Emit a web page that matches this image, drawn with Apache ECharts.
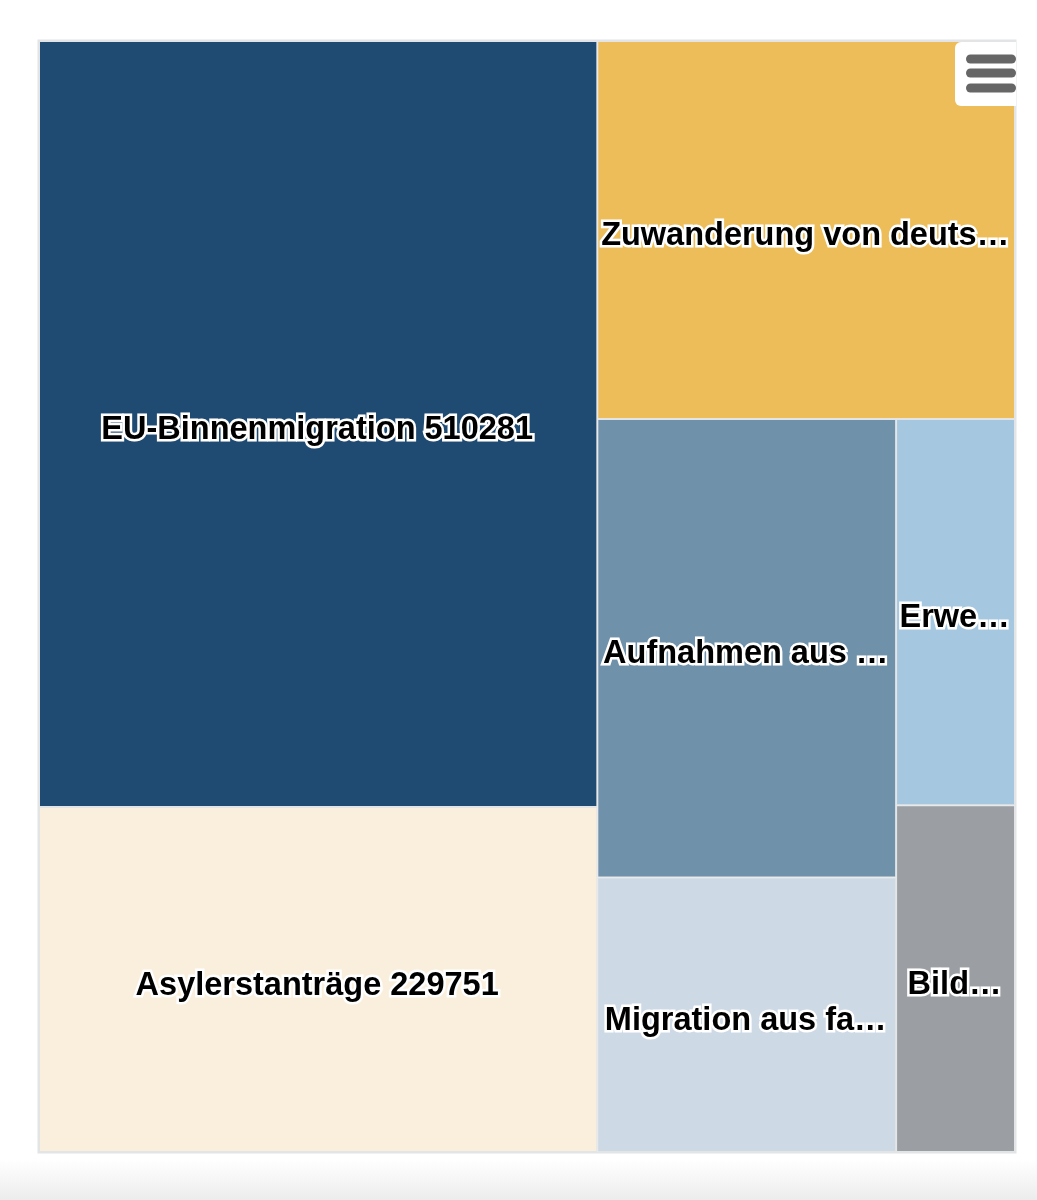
<!DOCTYPE html>
<html><head><meta charset="utf-8">
<script src="https://cdn.jsdelivr.net/npm/echarts@6/dist/echarts.min.js"></script>
<style>html,body{margin:0;padding:0;background:#fff}#c{width:1037px;height:1200px}</style>
</head><body><div id="c"></div>
<script>
// ---- data ----
const categories = [
  'EU-Binnenmigration',
  'Asylerstanträge',
  'Zuwanderung von deutschen Staatsangehörigen',
  'Aufnahmen aus humanitären Gründen',
  'Migration aus familiären Gründen',
  'Erwerbsmigration',
  'Bildungsmigration'
];
const values = [510281, 229751, 188300, 163500, 97800, 54800, 49200];
const colors = ['#1f4a72', '#f9efdc', '#ecbd59', '#7091aa', '#cdd9e5', '#a5c7e0', '#9b9fa3'];
// groups following the reference's squarified layout
const leftGroup = [0, 1];
const topRightGroup = [2];
const midGroup = [3, 4];
const rightGroup = [5, 6];

// ---- layout of groups derived from the values ----
const X0 = 39, Y0 = 41, W = 976, H = 1111;
const sum = idx => idx.reduce((s, i) => s + values[i], 0);
const total = sum([0,1,2,3,4,5,6]);
const leftW = W * sum(leftGroup) / total;
const rightW = W - leftW;
const zuwH = H * sum(topRightGroup) / (total - sum(leftGroup));
const lowerH = H - zuwH;
const midW = rightW * sum(midGroup) / (sum(midGroup) + sum(rightGroup));

function makeSeries(idx, left, top, width, height) {
  return {
    type: 'treemap',
    left: left, top: top, width: width, height: height,
    roam: false, nodeClick: false,
    breadcrumb: { show: false },
    animation: false,
    levels: [
      { itemStyle: { borderWidth: 0, gapWidth: 0 } },
      { itemStyle: { borderWidth: 1, borderColor: '#e2e4e6', gapWidth: 0 } }
    ],
    label: {
      show: true,
      position: 'inside',
      align: 'center',
      verticalAlign: 'middle',
      offset: [-1, 6],
      formatter: p => p.name + ' ' + p.value,
      fontFamily: 'Liberation Sans, Arial, sans-serif',
      fontWeight: 'bold',
      fontSize: 32.5,
      color: '#000000',
      textBorderColor: '#ffffff',
      textBorderWidth: 5,
      overflow: 'truncate',
      ellipsis: '…',
      padding: 0
    },
    data: idx.map(i => ({ name: categories[i], value: values[i], itemStyle: { color: colors[i] } }))
  };
}

const chart = echarts.init(document.getElementById('c'));
chart.setOption({
  backgroundColor: '#ffffff',
  tooltip: { show: false },
  graphic: [
    { type: 'rect', z: -10, shape: { x: 37.5, y: 39.5, width: 979, height: 1114 }, style: { fill: '#e2e4e6' } },
    { type: 'rect', z: -10, shape: { x: 0, y: 1160, width: 1037, height: 40 },
      style: { fill: new echarts.graphic.LinearGradient(0, 0, 0, 1, [{ offset: 0, color: '#ffffff' }, { offset: 1, color: '#ececec' }]) } },
    { type: 'rect', z: 100, shape: { x: 955, y: 42, width: 61, height: 64, r: [6, 0, 0, 6] }, style: { fill: '#ffffff' } },
    { type: 'rect', z: 101, shape: { x: 966, y: 54.5, width: 50, height: 9, r: 4.5 }, style: { fill: '#666666' } },
    { type: 'rect', z: 101, shape: { x: 966, y: 68.5, width: 50, height: 9, r: 4.5 }, style: { fill: '#666666' } },
    { type: 'rect', z: 101, shape: { x: 966, y: 83.5, width: 50, height: 9, r: 4.5 }, style: { fill: '#666666' } }
  ],
  series: [
    makeSeries(leftGroup, X0, Y0, leftW, H),
    makeSeries(topRightGroup, X0 + leftW, Y0, rightW, zuwH),
    makeSeries(midGroup, X0 + leftW, Y0 + zuwH, midW, lowerH),
    makeSeries(rightGroup, X0 + leftW + midW, Y0 + zuwH, rightW - midW, lowerH)
  ]
});
</script>
</body></html>
